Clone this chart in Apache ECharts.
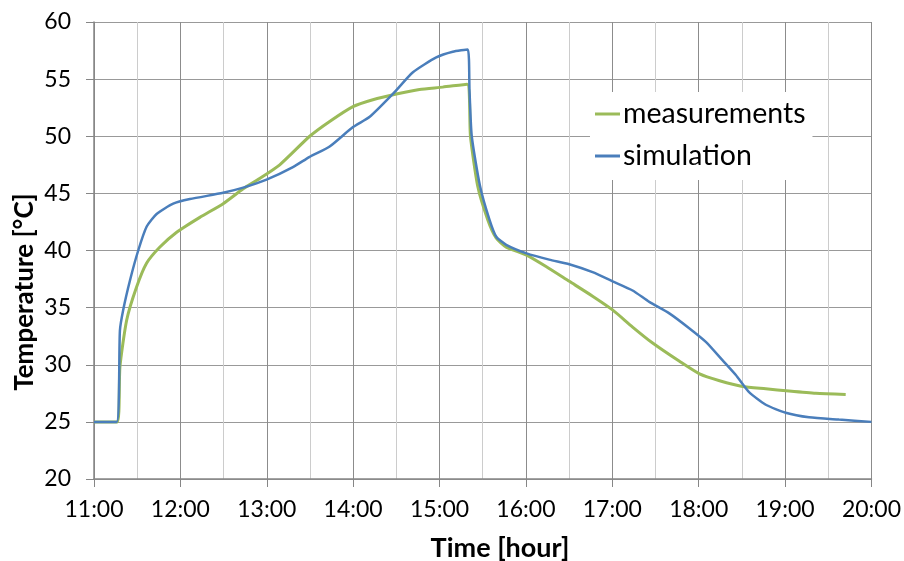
<!DOCTYPE html>
<html>
<head>
<meta charset="utf-8">
<script src="https://cdn.jsdelivr.net/npm/echarts@6/dist/echarts.min.js"></script>
<style>
html,body{margin:0;padding:0;background:#fff;}
#chart{width:904px;height:561px;}
</style>
</head>
<body>
<div id="chart"></div>
<script>
// Time in decimal hours (11.5 = 11:30)
const simTime = [11.000, 11.262, 11.300, 11.338, 11.417, 11.512, 11.610, 11.725, 11.917, 12.110,
  12.495, 12.727, 12.997, 13.303, 13.497, 13.728, 13.998, 14.192, 14.460, 14.692,
  14.962, 15.153, 15.327, 15.347, 15.373, 15.470, 15.578, 15.657, 15.772, 16.008,
  16.270, 16.502, 16.772, 17.003, 17.235, 17.428, 17.660, 17.890, 18.083, 18.275,
  18.430, 18.583, 18.777, 19.007, 19.277, 19.623, 20.000];
const simTemp = [25.0, 25.0, 33.0, 34.8, 37.4, 40.0, 42.1, 43.2, 44.1, 44.5,
  45.05, 45.5, 46.2, 47.3, 48.2, 49.1, 50.8, 51.7, 53.7, 55.6,
  56.9, 57.4, 57.6, 54.0, 50.0, 45.6, 42.7, 41.2, 40.5, 39.75,
  39.2, 38.8, 38.1, 37.3, 36.5, 35.5, 34.5, 33.2, 32.0, 30.4,
  29.1, 27.6, 26.5, 25.8, 25.4, 25.2, 25.0];

const measTime = [11.000, 11.270, 11.300, 11.378, 11.493, 11.610, 11.763, 11.957, 12.225, 12.495,
  12.727, 12.918, 13.150, 13.497, 13.728, 13.998, 14.228, 14.500, 14.768, 15.038,
  15.320, 15.358, 15.443, 15.558, 15.655, 15.772, 16.008, 16.233, 16.502, 16.772,
  17.003, 17.235, 17.467, 17.778, 18.010, 18.242, 18.507, 18.777, 19.045, 19.355,
  19.702];
const measTemp = [25.0, 25.0, 29.8, 33.9, 36.8, 38.9, 40.3, 41.6, 42.9, 44.1,
  45.4, 46.3, 47.5, 50.0, 51.3, 52.6, 53.2, 53.7, 54.1, 54.3,
  54.56, 50.0, 45.6, 42.7, 41.1, 40.3, 39.6, 38.6, 37.3, 36.0,
  34.8, 33.3, 31.9, 30.3, 29.2, 28.6, 28.1, 27.9, 27.7, 27.5,
  27.4];

const seriesNames = ['measurements', 'simulation'];
const xTitle = 'Time [hour]';
const yTitle = 'Temperature [°C]';

const pair = (xs, ys) => xs.map((x, i) => [x, ys[i]]);
const FONT = 'Lato, "Open Sans", sans-serif';

const chart = echarts.init(document.getElementById('chart'), null, {renderer: 'canvas'});
chart.setOption({
  animation: false,
  backgroundColor: '#ffffff',
  grid: {left: 94, top: 22, right: 31, bottom: 82, containLabel: false},
  xAxis: {
    type: 'value', min: 11, max: 20, interval: 1,
    axisLine: {show: true, lineStyle: {color: '#868686', width: 1.5}},
    axisTick: {show: true, length: 8, lineStyle: {color: '#868686'}},
    minorTick: {show: false, splitNumber: 2},
    splitLine: {show: true, lineStyle: {color: '#8c8c8c', width: 1}},
    minorSplitLine: {show: true, lineStyle: {color: '#cccccc', width: 1}},
    axisLabel: {color: '#000', fontFamily: FONT, fontSize: 23, margin: 19,
      formatter: v => Math.round(v) + ':00'}
  },
  yAxis: {
    type: 'value', min: 20, max: 60, interval: 5,
    axisLine: {show: true, lineStyle: {color: '#868686', width: 1.5}},
    axisTick: {show: true, length: 8, lineStyle: {color: '#868686'}},
    splitLine: {show: true, lineStyle: {color: '#999999', width: 1}},
    axisLabel: {color: '#000', fontFamily: FONT, fontSize: 23, margin: 23}
  },
  legend: {
    data: seriesNames,
    orient: 'vertical',
    left: 590, top: 92,
    backgroundColor: '#ffffff',
    padding: [7, 7, 9, 5],
    icon: 'rect',
    itemWidth: 25, itemHeight: 3, itemGap: 12,
    textStyle: {color: '#000', fontFamily: FONT, fontSize: 28.5, lineHeight: 30, padding: [0, 0, 0, -2]}
  },
  graphic: [
    {type: 'text', x: 500, y: 548, style: {text: xTitle, fontFamily: FONT, fontWeight: 'bold',
      fontSize: 27, fill: '#000', textAlign: 'center', textVerticalAlign: 'middle'}},
    {type: 'text', x: 25, y: 292, rotation: Math.PI / 2, style: {text: yTitle, fontFamily: FONT,
      fontWeight: 'bold', fontSize: 26, fill: '#000', textAlign: 'center', textVerticalAlign: 'middle'}}
  ],
  series: [
    {name: seriesNames[0], type: 'line', data: pair(measTime, measTemp), symbol: 'none',
      smooth: 0.2,
      lineStyle: {color: '#9BBB59', width: 3}, itemStyle: {color: '#9BBB59'}, z: 2},
    {name: seriesNames[1], type: 'line', data: pair(simTime, simTemp), symbol: 'none',
      smooth: 0.2,
      lineStyle: {color: '#4A7EBB', width: 2.5}, itemStyle: {color: '#4A7EBB'}, z: 3}
  ]
});
</script>
</body>
</html>
